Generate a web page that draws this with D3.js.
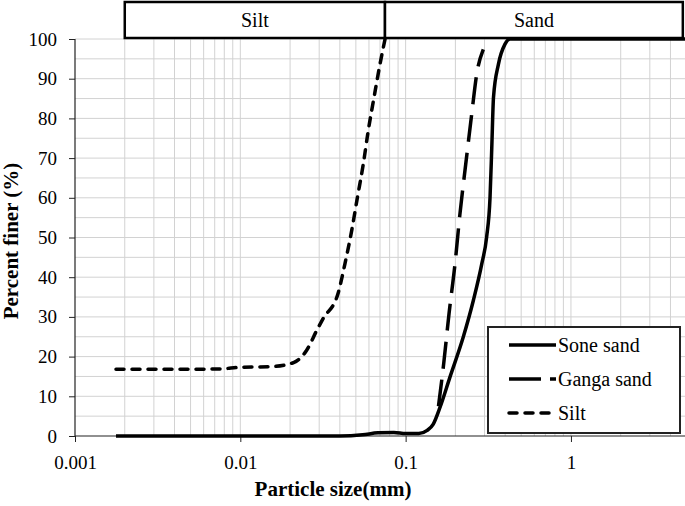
<!DOCTYPE html>
<html>
<head>
<meta charset="utf-8">
<script src="https://cdn.jsdelivr.net/npm/d3@7"></script>
<style>
  body { margin: 0; background: #fff; }
  svg { display: block; }
  svg text { font-family: "Liberation Serif", "Tinos", "Times New Roman", "DejaVu Serif", serif; }
</style>
</head>
<body>
<div id="chart"></div>
<script>
// particle size (mm) vs percent finer
const soneSand = [
  [0.00177, 0], [0.01, 0], [0.04, 0], [0.055, 0.3], [0.068, 0.8], [0.085, 0.9],
  [0.1, 0.6], [0.12, 0.6], [0.135, 1.4], [0.147, 3], [0.162, 7.4], [0.1856, 14.9],
  [0.2234, 25], [0.257, 34.2], [0.289, 43.4], [0.309, 50.1], [0.324, 60.1],
  [0.332, 72.7], [0.340, 85.3], [0.364, 93.6], [0.399, 98.7], [0.428, 100],
  [1, 100], [4.9, 100]
];
const gangaSand = [
  [0.158, 7.5], [0.17, 18.3], [0.183, 30.8], [0.199, 43.4], [0.213, 55.9],
  [0.231, 68.5], [0.251, 81.1], [0.269, 91.1], [0.295, 97.4]
];
const silt = [
  [0.00177, 16.8], [0.004, 16.8], [0.0075, 16.9], [0.00996, 17.3], [0.0158, 17.5],
  [0.021, 18.5], [0.0252, 21.6], [0.029, 26.6], [0.0316, 29.5], [0.039, 35.9],
  [0.043, 43.5], [0.0472, 51.8], [0.0511, 60.1], [0.0555, 68.6], [0.0594, 76.9],
  [0.0644, 85.3], [0.070, 93.7], [0.0751, 100]
];
const seriesNames = ["Sone sand", "Ganga sand", "Silt"];
const yTicks = [0, 10, 20, 30, 40, 50, 60, 70, 80, 90, 100];
const xTicks = [0.001, 0.01, 0.1, 1];
const xTickLabels = ["0.001", "0.01", "0.1", "1"];
const zones = [
  { name: "Silt", from: 0.002, to: 0.075 },
  { name: "Sand", from: 0.075, to: 4.75 }
];

const width = 685, height = 506;
const svg = d3.select("#chart").append("svg")
  .attr("width", width).attr("height", height);

const x = d3.scaleLog().domain([0.001, 5]).range([75, 686.5]);
const y = d3.scaleLinear().domain([0, 100]).range([436, 39]);

// grid
const vGrid = [];
for (let e = -3; e <= 0; e++) {
  for (let m = 1; m <= 9; m++) {
    const v = m * Math.pow(10, e);
    if (v > 0.001 && v <= 5) vGrid.push(v);
  }
}
const hGrid = d3.range(5, 101, 5);

svg.append("g").selectAll("line.v").data(vGrid).join("line")
  .attr("x1", d => x(d)).attr("x2", d => x(d))
  .attr("y1", y(0)).attr("y2", y(100))
  .attr("stroke", "#d2d2d2").attr("stroke-width", 1);
svg.append("g").selectAll("line.h").data(hGrid).join("line")
  .attr("x1", x(0.001)).attr("x2", width)
  .attr("y1", d => y(d)).attr("y2", d => y(d))
  .attr("stroke", "#d2d2d2").attr("stroke-width", 1);

// axes
const yAxis = svg.append("g")
  .attr("transform", `translate(${x(0.001)},0)`)
  .call(d3.axisLeft(y).tickValues(yTicks).tickSize(6).tickPadding(12));
const xAxis = svg.append("g")
  .attr("transform", `translate(0,${y(0)})`)
  .call(d3.axisBottom(x).tickValues(xTicks).tickSize(6).tickPadding(14)
    .tickFormat((d, i) => xTickLabels[i]));
[xAxis, yAxis].forEach(a => {
  a.attr("font-family", null).attr("font-size", null);
  a.select(".domain").attr("stroke", "#222").attr("stroke-width", 1.2);
  a.selectAll(".tick line").attr("stroke", "#222");
  a.selectAll("text").style("font-size", "19px").attr("fill", "#000");
});
xAxis.select(".domain").attr("d", `M${x(0.001)},0H${width}`);
yAxis.select(".domain").attr("d", `M0,${y(0)}V${y(100)}`);

// series
const line = d3.line().x(d => x(d[0])).y(d => y(d[1])).curve(d3.curveMonotoneX);
svg.append("path").datum(silt).attr("d", line)
  .attr("fill", "none").attr("stroke", "#000").attr("stroke-width", 3.5)
  .attr("stroke-linecap", "round").attr("stroke-dasharray", "8,8");
svg.append("path").datum(gangaSand).attr("d", line)
  .attr("fill", "none").attr("stroke", "#000").attr("stroke-width", 3.5)
  .attr("stroke-dasharray", "27,11");
svg.append("path").datum(soneSand).attr("d", line)
  .attr("fill", "none").attr("stroke", "#000").attr("stroke-width", 3.5)
  .attr("stroke-linejoin", "round");

// zone boxes on top
const zoneG = svg.append("g");
zoneG.selectAll("rect").data(zones).join("rect")
  .attr("x", d => x(d.from)).attr("y", 2)
  .attr("width", d => x(d.to) - x(d.from)).attr("height", 36)
  .attr("fill", "#fff").attr("stroke", "#000").attr("stroke-width", 2.5);
zoneG.selectAll("text").data(zones).join("text")
  .attr("x", d => (x(d.from) + x(d.to)) / 2).attr("y", 27)
  .attr("text-anchor", "middle").style("font-size", "20px")
  .text(d => d.name);

// legend
const legend = svg.append("g");
legend.append("rect")
  .attr("x", 488).attr("y", 327).attr("width", 192).attr("height", 106)
  .attr("fill", "#fff").attr("stroke", "#222").attr("stroke-width", 2);
const legendDash = [null, "32,9", "8,8"];
seriesNames.forEach((name, i) => {
  const ly = 345 + i * 34;
  legend.append("line")
    .attr("x1", 509).attr("x2", 556).attr("y1", ly).attr("y2", ly)
    .attr("stroke", "#000").attr("stroke-width", 3.5)
    .attr("stroke-linecap", i === 2 ? "round" : "butt")
    .attr("stroke-dasharray", legendDash[i]);
  legend.append("text")
    .attr("x", 558).attr("y", ly + 7)
    .style("font-size", "20px").text(name);
});

// axis titles
svg.append("text")
  .attr("x", 333).attr("y", 496)
  .attr("text-anchor", "middle").style("font-size", "21px").attr("font-weight", "bold")
  .text("Particle size(mm)");
svg.append("text")
  .attr("transform", "translate(18,241) rotate(-90)")
  .attr("text-anchor", "middle").style("font-size", "21px").attr("font-weight", "bold")
  .text("Percent finer (%)");
</script>
</body>
</html>
